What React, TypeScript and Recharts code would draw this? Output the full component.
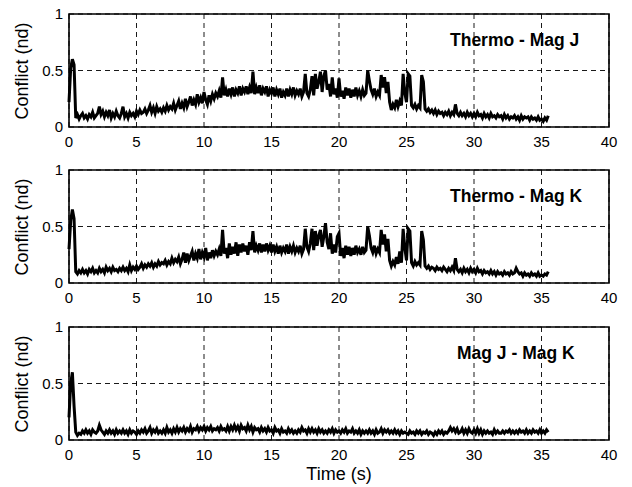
import { LineChart, Line, XAxis, YAxis, CartesianGrid, ReferenceArea } from 'recharts';

// sample spacing of the recorded traces (s)
const SAMPLE_STEP = 0.125;

const X_TICKS = [0, 5, 10, 15, 20, 25, 30, 35, 40];
const Y_TICKS = [0, 0.5, 1];

// Thermo - Mag J, one row per second
const thermoMagJ = [
  0.22, 0.52, 0.60, 0.55, 0.08, 0.11, 0.07, 0.10,
  0.12, 0.08, 0.10, 0.07, 0.11, 0.09, 0.13, 0.08,
  0.10, 0.12, 0.18, 0.11, 0.14, 0.09, 0.13, 0.10,
  0.15, 0.08, 0.12, 0.09, 0.14, 0.10, 0.08, 0.12,
  0.18, 0.09, 0.12, 0.08, 0.13, 0.10, 0.12, 0.09,
  0.14, 0.11, 0.15, 0.12, 0.13, 0.16, 0.12, 0.15,
  0.19, 0.13, 0.17, 0.12, 0.18, 0.14, 0.16, 0.13,
  0.17, 0.14, 0.19, 0.15, 0.18, 0.16, 0.21, 0.15,
  0.19, 0.23, 0.16, 0.21, 0.17, 0.25, 0.18, 0.22,
  0.27, 0.19, 0.24, 0.20, 0.29, 0.22, 0.26, 0.21,
  0.31, 0.24, 0.20, 0.28, 0.23, 0.29, 0.25, 0.30,
  0.27, 0.32, 0.26, 0.44, 0.28, 0.33, 0.27, 0.34,
  0.29, 0.35, 0.27, 0.33, 0.30, 0.36, 0.28, 0.34,
  0.31, 0.36, 0.29, 0.35, 0.30, 0.49, 0.29, 0.35,
  0.30, 0.37, 0.28, 0.34, 0.31, 0.36, 0.27, 0.33,
  0.30, 0.35, 0.27, 0.33, 0.29, 0.34, 0.26, 0.31,
  0.28, 0.34, 0.27, 0.33, 0.29, 0.35, 0.28, 0.32,
  0.29, 0.34, 0.27, 0.31, 0.47, 0.30, 0.27, 0.33,
  0.45, 0.28, 0.47, 0.34, 0.40, 0.49, 0.31, 0.45,
  0.50, 0.33, 0.38, 0.27, 0.44, 0.29, 0.34, 0.26,
  0.43, 0.27, 0.32, 0.25, 0.35, 0.28, 0.34, 0.26,
  0.33, 0.27, 0.35, 0.28, 0.32, 0.27, 0.33, 0.28,
  0.30, 0.50, 0.41, 0.33, 0.29, 0.34, 0.27, 0.31,
  0.28, 0.46, 0.35, 0.44, 0.30, 0.40, 0.22, 0.15,
  0.20, 0.17, 0.24, 0.18, 0.23, 0.19, 0.47, 0.30,
  0.22, 0.47, 0.45, 0.19, 0.17, 0.20, 0.16, 0.19,
  0.17, 0.46, 0.40, 0.16, 0.14, 0.16, 0.13, 0.15,
  0.12, 0.15, 0.11, 0.14, 0.12, 0.13, 0.10, 0.13,
  0.11, 0.14, 0.10, 0.13, 0.11, 0.20, 0.12, 0.10,
  0.13, 0.10, 0.12, 0.09, 0.13, 0.10, 0.12, 0.09,
  0.12, 0.09, 0.13, 0.10, 0.11, 0.08, 0.12, 0.09,
  0.11, 0.08, 0.12, 0.09, 0.10, 0.08, 0.11, 0.09,
  0.10, 0.07, 0.11, 0.08, 0.10, 0.07, 0.09, 0.08,
  0.10, 0.07, 0.09, 0.06, 0.10, 0.07, 0.09, 0.08,
  0.09, 0.06, 0.09, 0.07, 0.08, 0.06, 0.09, 0.06,
  0.07, 0.05, 0.08, 0.06, 0.10,
];

// Thermo - Mag K
const thermoMagK = [
  0.30, 0.55, 0.65, 0.57, 0.10, 0.08, 0.11, 0.09,
  0.12, 0.09, 0.11, 0.08, 0.12, 0.10, 0.13, 0.09,
  0.11, 0.09, 0.13, 0.10, 0.12, 0.09, 0.14, 0.11,
  0.13, 0.10, 0.14, 0.11, 0.12, 0.10, 0.13, 0.11,
  0.14, 0.11, 0.13, 0.10, 0.16, 0.11, 0.14, 0.12,
  0.15, 0.12, 0.14, 0.17, 0.13, 0.16, 0.14, 0.17,
  0.15, 0.18, 0.14, 0.17, 0.15, 0.19, 0.16, 0.18,
  0.17, 0.20, 0.16, 0.19, 0.17, 0.22, 0.18, 0.21,
  0.19, 0.23, 0.17, 0.21, 0.27, 0.18, 0.26, 0.20,
  0.24, 0.28, 0.20, 0.26, 0.22, 0.30, 0.21, 0.27,
  0.23, 0.31, 0.20, 0.27, 0.22, 0.29, 0.24, 0.28,
  0.25, 0.30, 0.24, 0.47, 0.26, 0.31, 0.22, 0.35,
  0.25, 0.32, 0.26, 0.36, 0.24, 0.34, 0.27, 0.35,
  0.28, 0.33, 0.25, 0.36, 0.29, 0.46, 0.27, 0.33,
  0.29, 0.35, 0.27, 0.34, 0.28, 0.35, 0.29, 0.33,
  0.27, 0.34, 0.28, 0.32, 0.26, 0.33, 0.27, 0.31,
  0.28, 0.34, 0.26, 0.32, 0.28, 0.33, 0.27, 0.31,
  0.28, 0.33, 0.26, 0.30, 0.48, 0.32, 0.28, 0.35,
  0.48, 0.29, 0.46, 0.33, 0.42, 0.47, 0.32, 0.41,
  0.53, 0.36, 0.30, 0.44, 0.26, 0.34, 0.27, 0.41,
  0.44, 0.24, 0.31, 0.22, 0.33, 0.25, 0.32, 0.24,
  0.31, 0.25, 0.33, 0.27, 0.30, 0.25, 0.32, 0.27,
  0.29, 0.50, 0.42, 0.31, 0.27, 0.33, 0.26, 0.30,
  0.27, 0.47, 0.34, 0.43, 0.28, 0.39, 0.20, 0.15,
  0.19, 0.16, 0.23, 0.17, 0.28, 0.18, 0.48, 0.31,
  0.20, 0.48, 0.46, 0.18, 0.15, 0.19, 0.16, 0.18,
  0.16, 0.46, 0.38, 0.15, 0.13, 0.15, 0.12, 0.14,
  0.13, 0.11, 0.14, 0.12, 0.13, 0.11, 0.14, 0.12,
  0.10, 0.13, 0.11, 0.14, 0.11, 0.22, 0.12, 0.10,
  0.12, 0.09, 0.13, 0.10, 0.12, 0.09, 0.13, 0.10,
  0.12, 0.09, 0.13, 0.10, 0.11, 0.08, 0.11, 0.09,
  0.10, 0.08, 0.11, 0.08, 0.10, 0.07, 0.10, 0.08,
  0.09, 0.07, 0.10, 0.08, 0.09, 0.07, 0.10, 0.08,
  0.09, 0.13, 0.10, 0.08, 0.09, 0.06, 0.09, 0.07,
  0.08, 0.06, 0.09, 0.07, 0.08, 0.06, 0.09, 0.06,
  0.07, 0.06, 0.08, 0.07, 0.10,
];

// Mag J - Mag K
const magJMagK = [
  0.20, 0.50, 0.60, 0.30, 0.07, 0.04, 0.06, 0.05,
  0.08, 0.06, 0.09, 0.06, 0.08, 0.05, 0.09, 0.07,
  0.06, 0.08, 0.13, 0.09, 0.07, 0.05, 0.08, 0.06,
  0.09, 0.06, 0.08, 0.05, 0.09, 0.06, 0.08, 0.06,
  0.09, 0.06, 0.08, 0.05, 0.09, 0.06, 0.08, 0.07,
  0.05, 0.08, 0.06, 0.09, 0.07, 0.10, 0.06, 0.08,
  0.11, 0.06, 0.09, 0.07, 0.10, 0.06, 0.08, 0.06,
  0.09, 0.06, 0.11, 0.07, 0.09, 0.06, 0.10, 0.07,
  0.11, 0.07, 0.10, 0.08, 0.11, 0.07, 0.10, 0.08,
  0.12, 0.07, 0.10, 0.09, 0.12, 0.08, 0.11, 0.09,
  0.12, 0.08, 0.11, 0.09, 0.12, 0.08, 0.10, 0.09,
  0.11, 0.08, 0.12, 0.09, 0.10, 0.08, 0.12, 0.08,
  0.12, 0.09, 0.13, 0.09, 0.12, 0.08, 0.13, 0.10,
  0.11, 0.08, 0.13, 0.09, 0.12, 0.07, 0.11, 0.09,
  0.10, 0.07, 0.11, 0.08, 0.10, 0.07, 0.11, 0.08,
  0.09, 0.06, 0.11, 0.08, 0.09, 0.06, 0.10, 0.07,
  0.08, 0.06, 0.10, 0.07, 0.09, 0.06, 0.08, 0.06,
  0.09, 0.07, 0.11, 0.08, 0.09, 0.06, 0.10, 0.07,
  0.10, 0.07, 0.09, 0.06, 0.10, 0.07, 0.09, 0.06,
  0.08, 0.06, 0.09, 0.07, 0.10, 0.06, 0.09, 0.07,
  0.08, 0.06, 0.09, 0.07, 0.10, 0.06, 0.08, 0.07,
  0.10, 0.06, 0.08, 0.06, 0.09, 0.05, 0.08, 0.06,
  0.08, 0.06, 0.09, 0.06, 0.08, 0.05, 0.09, 0.06,
  0.07, 0.10, 0.06, 0.09, 0.07, 0.09, 0.06, 0.08,
  0.06, 0.09, 0.06, 0.08, 0.05, 0.08, 0.06, 0.07,
  0.06, 0.05, 0.08, 0.06, 0.07, 0.05, 0.08, 0.06,
  0.08, 0.05, 0.07, 0.06, 0.08, 0.05, 0.07, 0.06,
  0.04, 0.07, 0.05, 0.08, 0.06, 0.08, 0.05, 0.07,
  0.06, 0.08, 0.11, 0.08, 0.10, 0.07, 0.10, 0.06,
  0.07, 0.10, 0.06, 0.09, 0.06, 0.10, 0.07, 0.06,
  0.09, 0.06, 0.10, 0.06, 0.09, 0.05, 0.08, 0.06,
  0.08, 0.06, 0.07, 0.05, 0.09, 0.06, 0.08, 0.06,
  0.06, 0.08, 0.06, 0.08, 0.07, 0.09, 0.06, 0.08,
  0.06, 0.08, 0.06, 0.09, 0.07, 0.08, 0.06, 0.09,
  0.06, 0.08, 0.06, 0.09, 0.07, 0.08, 0.06, 0.09,
  0.06, 0.08, 0.06, 0.09, 0.07,
];

const FONT = '"Liberation Sans", Arial, Helvetica, sans-serif';

const PLOT_LEFT = 69;
const PLOT_RIGHT = 609;
const PLOT_H = 113;

interface PanelProps {
  values: number[];
  title: string;
  plotTop: number;
  titleLeft: number;
}

function Panel({ values, title, plotTop, titleLeft }: PanelProps) {
  const data = values.map((v, i) => ({ t: i * SAMPLE_STEP, v }));
  const chartTop = plotTop - 14;
  return (
    <>
      <div style={{ position: 'absolute', left: 0, top: chartTop }}>
        <LineChart
          width={632}
          height={160}
          data={data}
          margin={{ top: 14, right: 632 - PLOT_RIGHT, bottom: 0, left: 0 }}
        >
          <CartesianGrid stroke="#000" strokeDasharray="5 4" strokeWidth={0.9} />
          <XAxis
            dataKey="t"
            type="number"
            domain={[0, 40]}
            ticks={X_TICKS}
            height={160 - 14 - PLOT_H}
            axisLine={false}
            tickLine={false}
            tickSize={6}
            tickMargin={3}
            tick={{ fill: '#000', fontSize: 15, fontFamily: FONT }}
          />
          <YAxis
            type="number"
            domain={[0, 1]}
            ticks={Y_TICKS}
            width={PLOT_LEFT}
            axisLine={false}
            tickLine={false}
            tickSize={6}
            tickMargin={0}
            tick={{ fill: '#000', fontSize: 15, fontFamily: FONT }}
          />
          <Line
            type="linear"
            dataKey="v"
            stroke="#000"
            strokeWidth={3}
            dot={false}
            isAnimationActive={false}
          />
          <ReferenceArea
            x1={0}
            x2={40}
            y1={0}
            y2={1}
            fill="none"
            stroke="#000"
            strokeWidth={1.6}
            ifOverflow="visible"
          />
        </LineChart>
      </div>
      <div
        style={{
          position: 'absolute',
          left: titleLeft,
          top: plotTop + 26,
          transform: 'translateY(-50%)',
          fontFamily: FONT,
          fontWeight: 'bold',
          fontSize: 17.5,
          whiteSpace: 'nowrap',
        }}
      >
        {title}
      </div>
      <div
        style={{
          position: 'absolute',
          left: 21.5,
          top: plotTop + PLOT_H / 2,
          transform: 'translate(-50%, -50%) rotate(-90deg)',
          fontFamily: FONT,
          fontSize: 18,
          whiteSpace: 'nowrap',
        }}
      >
        Conflict (nd)
      </div>
    </>
  );
}

export default function App() {
  return (
    <div
      style={{
        position: 'absolute',
        left: 0,
        top: 0,
        width: 632,
        height: 487,
        background: '#fff',
        fontFamily: FONT,
      }}
    >
      <Panel values={thermoMagJ} title="Thermo - Mag J" plotTop={14} titleLeft={450} />
      <Panel values={thermoMagK} title="Thermo - Mag K" plotTop={170} titleLeft={450} />
      <Panel values={magJMagK} title="Mag J - Mag K" plotTop={327} titleLeft={457} />
      <div
        style={{
          position: 'absolute',
          left: (PLOT_LEFT + PLOT_RIGHT) / 2,
          top: 474,
          transform: 'translate(-50%, -50%)',
          fontFamily: FONT,
          fontSize: 18,
          whiteSpace: 'nowrap',
        }}
      >
        Time (s)
      </div>
    </div>
  );
}
